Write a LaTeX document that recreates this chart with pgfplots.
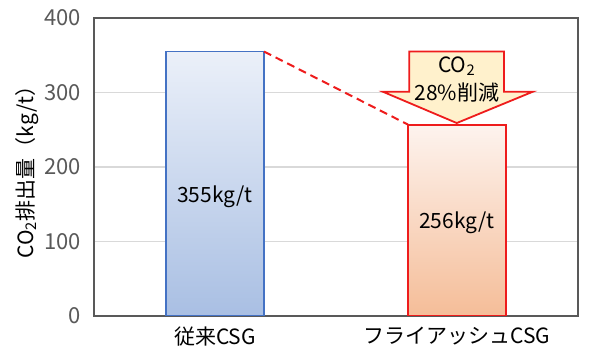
\documentclass[border=0pt]{standalone}
\usepackage{fontspec}
\setmainfont{Noto Sans CJK JP}
\usepackage{pgfplots}
\pgfplotsset{compat=1.18}
\definecolor{gridc}{HTML}{D9D9D9}
\definecolor{axisc}{HTML}{595959}
\definecolor{tickc}{HTML}{595959}
\definecolor{bluec}{HTML}{4472C4}
\definecolor{bluetop}{HTML}{EBF0F9}
\definecolor{bluebot}{HTML}{A9BFE3}
\definecolor{redc}{HTML}{EE1C1C}
\definecolor{redtop}{HTML}{FDF3EE}
\definecolor{redbot}{HTML}{F5BD98}
\definecolor{arrowc}{HTML}{FFF1CC}
\begin{document}
\begin{tikzpicture}
\begin{axis}[
  scale only axis, width=242pt, height=149pt,
  xmin=-0.5, xmax=1.5, ymin=0, ymax=400,
  xtick={0,1}, xticklabels={従来CSG, フライアッシュCSG},
  ytick={0,100,200,300,400},
  major tick length=0pt,
  ymajorgrids, grid style={gridc, line width=0.6pt},
  axis line style={axisc, line width=0.8pt},
  /pgf/number format/assume math mode=true,
  yticklabel style={font=\fontsize{11}{12}\selectfont, text=tickc, xshift=-3pt},
  xticklabel style={font=\fontsize{10.5}{12}\selectfont, text=black, yshift=-2pt},
  ylabel={CO\textsubscript{2}排出量（kg/t）},
  ylabel style={font=\fontsize{10.5}{12}\selectfont, text=black},
  ylabel shift=-4pt,
]
\addplot[ybar, bar width=0.405, draw=bluec, line width=0.8pt, top color=bluetop, bottom color=bluebot] coordinates {(0,355)};
\addplot[ybar, bar width=0.405, draw=redc, line width=0.9pt, top color=redtop, bottom color=redbot] coordinates {(1,256)};
\addplot[redc, line width=1pt, dash pattern=on 4pt off 2.5pt] coordinates {(0.2025,355) (0.797,257)};
\draw[redc, line width=0.9pt, fill=arrowc, line join=miter]
  (axis cs:0.803,355) -- (axis cs:1.194,355) -- (axis cs:1.194,301) -- (axis cs:1.313,301)
  -- (axis cs:0.999,259) -- (axis cs:0.694,301) -- (axis cs:0.803,301) -- cycle;
\node[font=\fontsize{10.5}{12}\selectfont] at (axis cs:1.0,335) {CO\textsubscript{2}};
\node[font=\fontsize{10.5}{12}\selectfont] at (axis cs:1.0,300) {28\%削減};
\node[font=\fontsize{10.5}{12}\selectfont] at (axis cs:0,160) {355kg/t};
\node[font=\fontsize{10.5}{12}\selectfont] at (axis cs:1,125) {256kg/t};
\end{axis}
\pgfresetboundingbox
\path ([xshift=-47pt,yshift=-24pt]current axis.south west) rectangle ([xshift=6pt,yshift=9pt]current axis.north east);
\end{tikzpicture}
\end{document}
